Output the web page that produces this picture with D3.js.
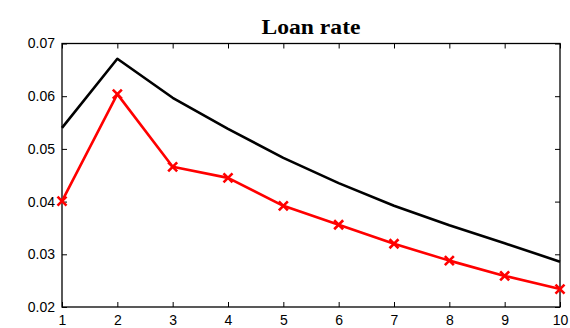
<!DOCTYPE html>
<html><head><meta charset="utf-8">
<script src="https://cdn.jsdelivr.net/npm/d3@7"></script>
<style>body{margin:0;background:#fff}svg{display:block}</style>
</head><body>
<script>
const periods = [1,2,3,4,5,6,7,8,9,10];
const blackSeries = [0.0540,0.0671,0.0597,0.0538,0.0483,0.0435,0.0392,0.0355,0.0321,0.0286];
const redSeries = [0.0401,0.0604,0.0466,0.0445,0.0392,0.0356,0.0320,0.0288,0.0259,0.0234];
const yTicks = [0.02,0.03,0.04,0.05,0.06,0.07];
const xTicks = [1,2,3,4,5,6,7,8,9,10];
const title = "Loan rate";

const W=570,H=328, L=62,R=560,T=43.5,B=307;
const svg=d3.select("body").append("svg").attr("width",W).attr("height",H);
const x=d3.scaleLinear().domain([1,10]).range([L,R]);
const y=d3.scaleLinear().domain([0.02,0.07]).range([B,T]);

const lab={"font-family":"Liberation Sans, Arial, sans-serif","font-size":"14px","fill":"#000"};
function st(sel,o){for(const k in o) sel.style(k,o[k]); return sel;}

const gx=svg.append("g").attr("transform",`translate(0,${B})`).call(d3.axisBottom(x).tickValues(xTicks).tickSize(-5).tickPadding(8).tickFormat(d3.format("d")));
const gy=svg.append("g").attr("transform",`translate(${L},0)`).call(d3.axisLeft(y).tickValues(yTicks).tickSize(-5).tickPadding(7).tickFormat(d3.format(".2f")));
const gt=svg.append("g").attr("transform",`translate(0,${T})`).call(d3.axisTop(x).tickValues(xTicks).tickSize(-5).tickFormat(""));
const gr=svg.append("g").attr("transform",`translate(${R},0)`).call(d3.axisRight(y).tickValues(yTicks).tickSize(-5).tickFormat(""));
[gx,gy,gt,gr].forEach(g=>{g.select(".domain").remove();g.selectAll("line").attr("stroke","#000").attr("stroke-width",1);g.selectAll("text").each(function(){st(d3.select(this),lab)});});
svg.append("rect").attr("x",L).attr("y",T).attr("width",R-L).attr("height",B-T).attr("fill","none").attr("stroke","#000").attr("stroke-width",1.3);

const line=d3.line().x((d,i)=>x(periods[i])).y(d=>y(d));
svg.append("path").datum(blackSeries).attr("d",line).attr("fill","none").attr("stroke","#000").attr("stroke-width",2.6).attr("stroke-linejoin","round");
svg.append("path").datum(redSeries).attr("d",line).attr("fill","none").attr("stroke","#ff0000").attr("stroke-width",2.6).attr("stroke-linejoin","round");
const s=4.5;
svg.append("g").selectAll("path").data(redSeries).join("path")
  .attr("transform",(d,i)=>`translate(${x(periods[i])},${y(d)})`)
  .attr("d",`M${-s},${-s}L${s},${s}M${-s},${s}L${s},${-s}`)
  .attr("stroke","#ff0000").attr("stroke-width",2.6).attr("fill","none");

svg.append("text").attr("x",(L+R)/2).attr("y",34).attr("text-anchor","middle")
  .attr("textLength",99).attr("lengthAdjust","spacingAndGlyphs")
  .style("font-family","Liberation Serif, DejaVu Serif, serif").style("font-weight","bold").style("font-size","20px").text(title);
</script>
</body></html>
